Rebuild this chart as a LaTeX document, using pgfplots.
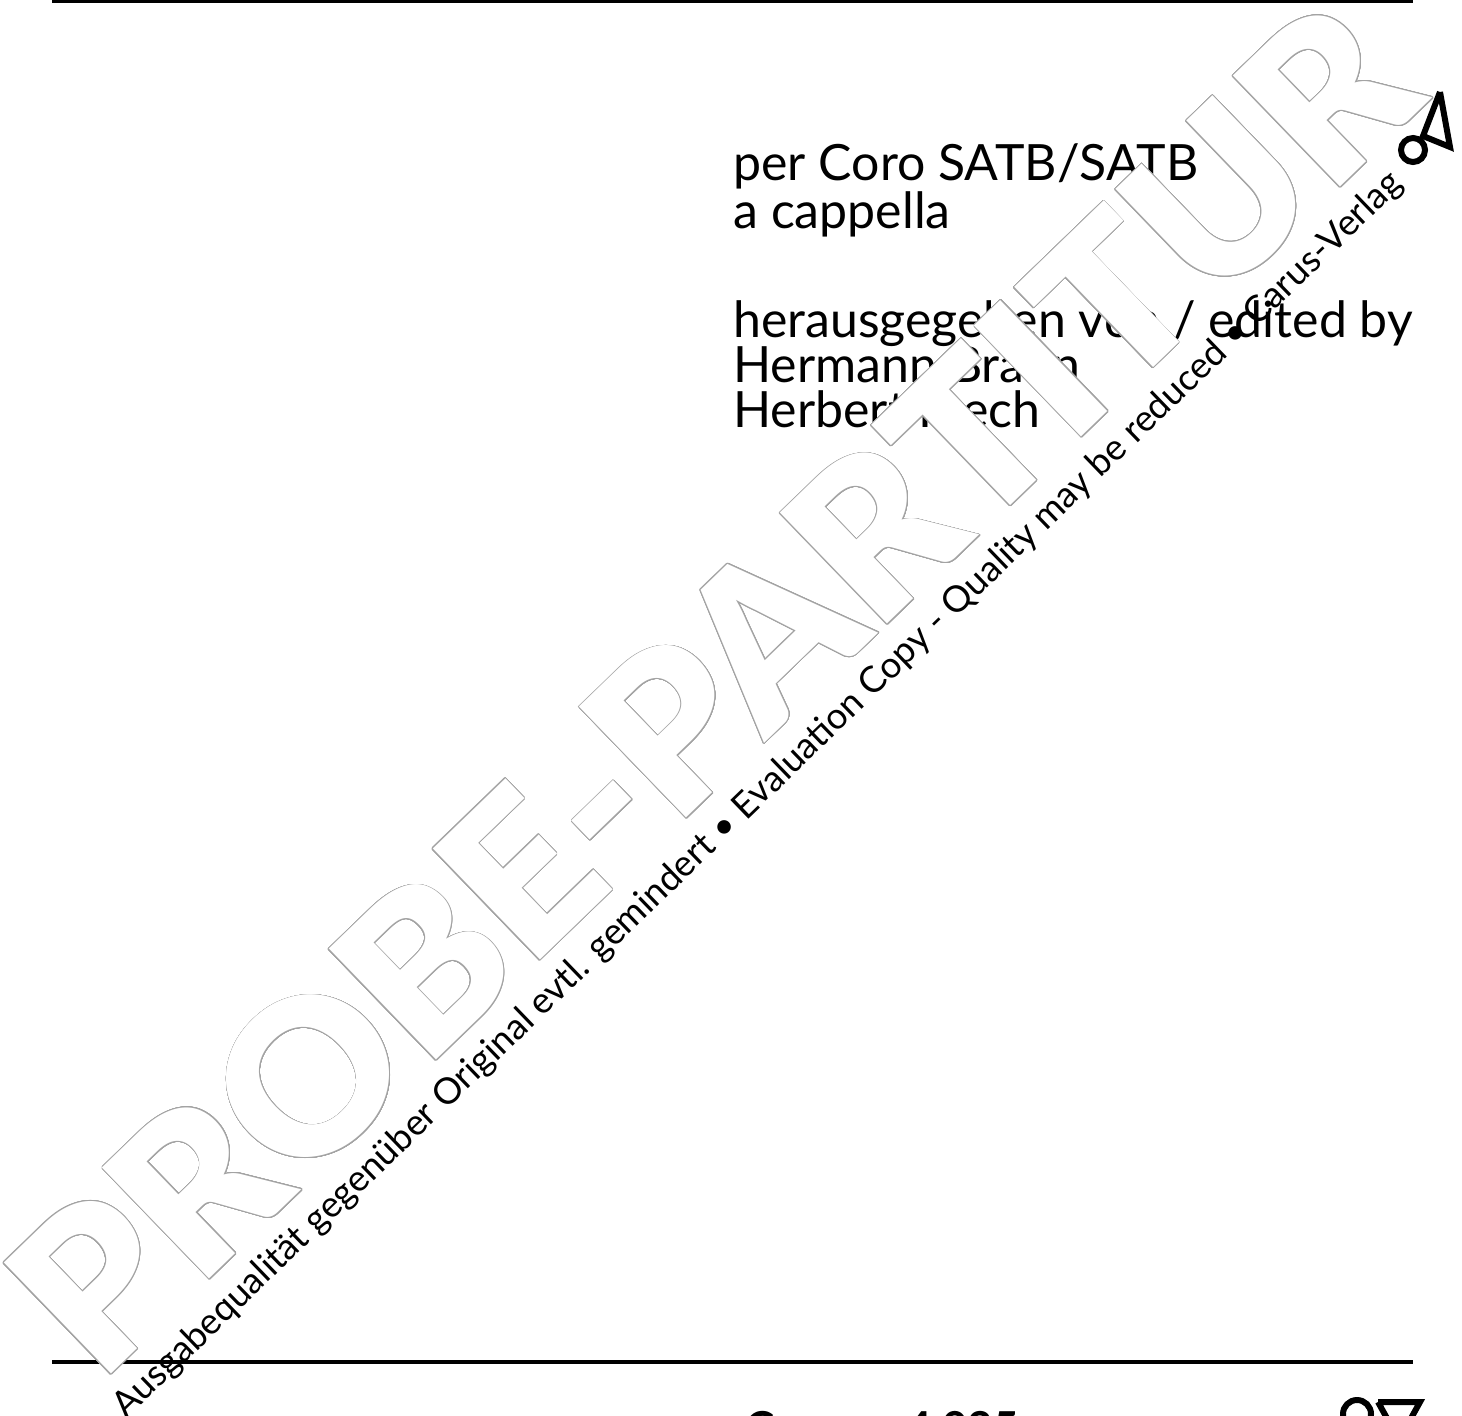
\documentclass[border=0pt]{standalone}
\usepackage{pgfplots}
\pgfplotsset{compat=1.18}
\usepackage{fontspec}
\setmainfont{Lato}
\newfontfamily\wmfont{Lato Black}
\usepackage[copies]{contour}
\usepackage{graphicx}
\definecolor{wmgray}{gray}{0.64}
\contourlength{0.42pt}
\contournumber{32}
\begin{document}
\begin{tikzpicture}
\begin{axis}[
  scale only axis, width=731pt, height=707.5pt,
  xmin=0, xmax=1462, ymin=0, ymax=1415, y dir=reverse,
  hide axis, clip=true,
]
% rules
\addplot[black, line width=1.5pt] coordinates {(52,1.5) (1413,1.5)};
\addplot[black, line width=1.75pt] coordinates {(52,1362) (1413,1362)};
% title block
\node[anchor=base west, inner sep=0, font=\fontsize{25}{25}\selectfont] at (axis cs:733,180) {per Coro SATB/SATB};
\node[anchor=base west, inner sep=0, font=\fontsize{25}{25}\selectfont] at (axis cs:733,228) {a cappella};
\node[anchor=base west, inner sep=0, font=\fontsize{25}{25}\selectfont] at (axis cs:733,337) {herausgegeben von / edited by};
\node[anchor=base west, inner sep=0, font=\fontsize{25}{25}\selectfont] at (axis cs:733,382) {Hermann Braun};
\node[anchor=base west, inner sep=0, font=\fontsize{25}{25}\selectfont] at (axis cs:733,427) {Herbert Frech};
% bottom text (cut by page edge)
\node[anchor=base west, inner sep=0, font=\bfseries\fontsize{22}{22}\selectfont] at (axis cs:745,1443) {Carus};
\node[anchor=base west, inner sep=0, font=\bfseries\fontsize{22}{22}\selectfont] at (axis cs:906,1443) {4.025};
% big watermark
\node[anchor=base west, inner sep=0, rotate=44, font=\wmfont\fontsize{108}{108}\selectfont] at (axis cs:100,1385)
  {\resizebox{925pt}{78pt}{\color{white}\contour{wmgray}{PROBE-PARTITUR}}};
% small watermark text
\node[anchor=base west, inner sep=0, rotate=44, font=\fontsize{18}{18}\selectfont] at (axis cs:126,1420)
  {\resizebox{888pt}{!}{Ausgabequalität gegenüber Original evtl. gemindert • Evaluation Copy - Quality may be reduced • Carus-Verlag}};
% logo top right
\addplot[only marks, mark=o, mark size=6pt, mark options={line width=3pt, black}] coordinates {(1413,150)};
\addplot[black, line width=3pt, line join=miter] coordinates {(1440,92) (1450,147) (1423,136) (1440,92)};
% logo bottom right
\addplot[only marks, mark=o, mark size=7pt, mark options={line width=3pt, black}] coordinates {(1357,1414)};
\addplot[black, line width=3pt, line join=miter] coordinates {(1378,1402) (1420,1402) (1399,1440) (1378,1402)};
\end{axis}
\pgfresetboundingbox
\path[use as bounding box] (current axis.south west) rectangle (current axis.north east);
\end{tikzpicture}
\end{document}
